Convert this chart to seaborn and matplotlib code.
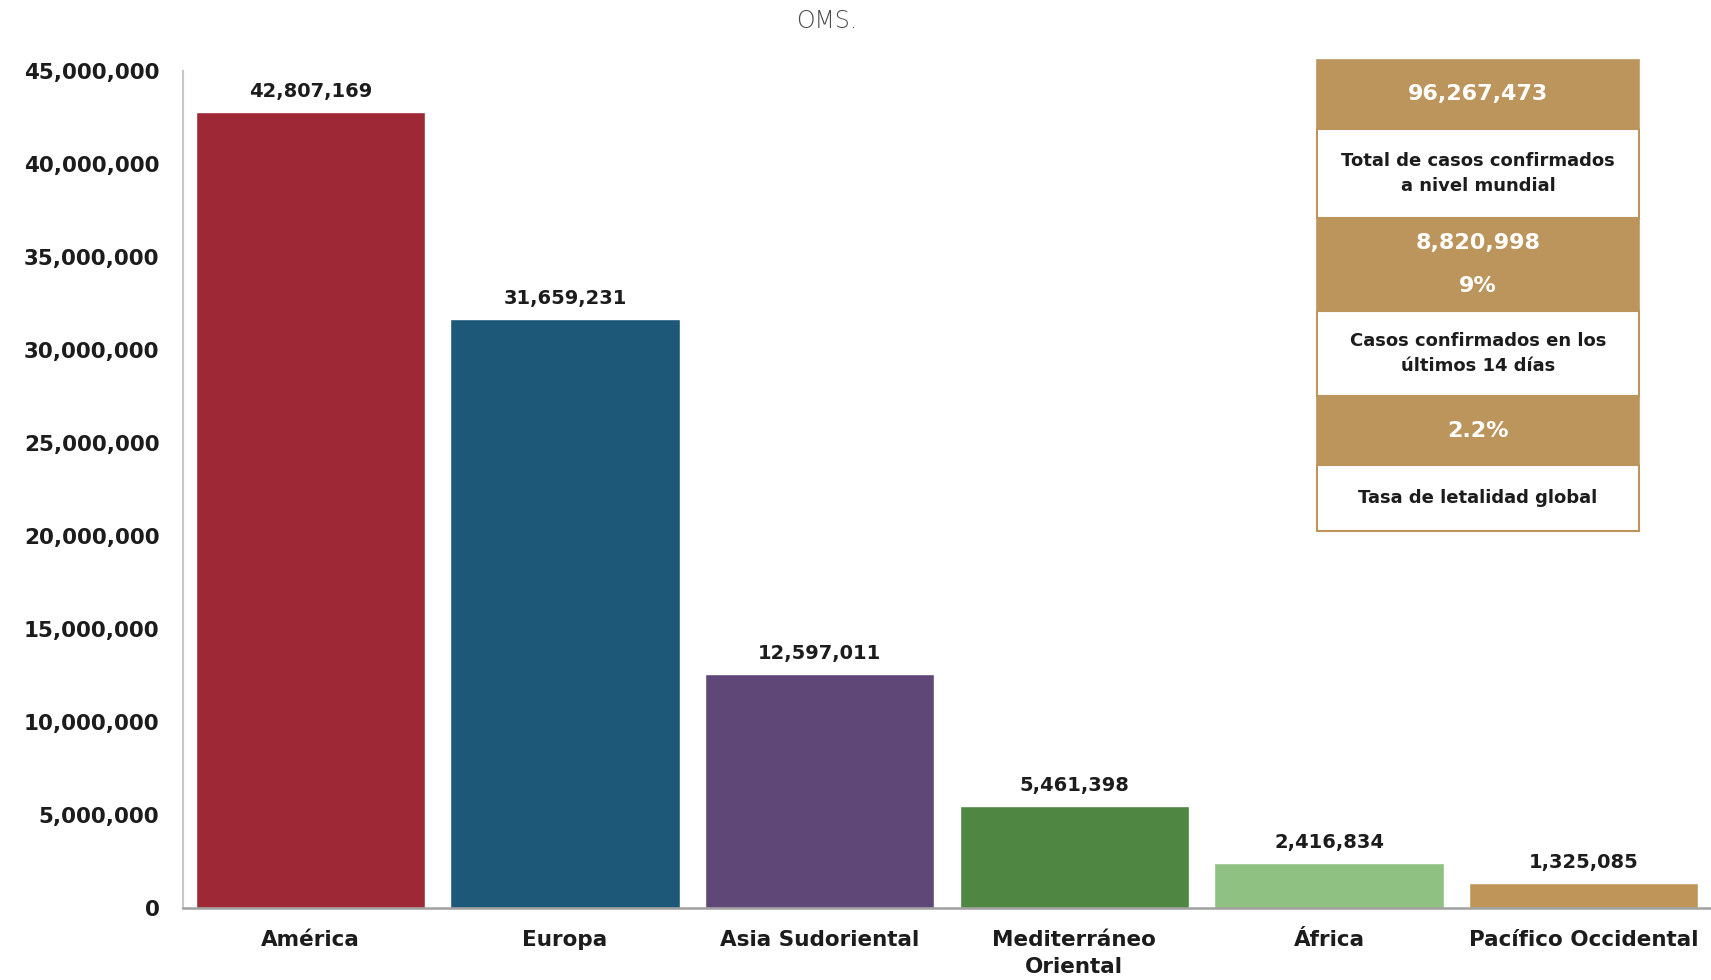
import matplotlib
matplotlib.use("Agg")
import matplotlib.pyplot as plt
import seaborn as sns
import pandas as pd
from matplotlib.patches import Rectangle
from matplotlib.ticker import FuncFormatter

# ----------------------------------------------------------------------
# Data
# ----------------------------------------------------------------------
regions = ["América", "Europa", "Asia Sudoriental", "Mediterráneo\nOriental",
           "África", "Pacífico Occidental"]
cases = [42807169, 31659231, 12597011, 5461398, 2416834, 1325085]
colors = ["#9E2836", "#1E5878", "#5F4877", "#4E8642", "#8FC182", "#BF9559"]

box_values = ["96,267,473", "8,820,998\n9%", "2.2%"]
box_labels = ["Total de casos confirmados\na nivel mundial",
              "Casos confirmados en los\núltimos 14 días",
              "Tasa de letalidad global"]

title = "OMS."
TAN = "#BC955C"
DARK = "#1C1C1C"

# ----------------------------------------------------------------------
# Plot
# ----------------------------------------------------------------------
sns.set_style("white")
plt.rcParams["font.family"] = ["DejaVu Sans"]

df = pd.DataFrame({"region": regions, "cases": cases})

fig = plt.figure(figsize=(17.11, 9.8), dpi=100)
ax = fig.add_axes([0.107, 0.0735, 0.893, 0.854])

sns.barplot(data=df, x="region", y="cases", hue="region", palette=colors,
            width=0.9, saturation=1, legend=False, ax=ax)

ax.set_ylim(0, 45_000_000)
ax.set_xlim(-0.5, 5.5)
ax.set_yticks(range(0, 45_000_001, 5_000_000))
ax.yaxis.set_major_formatter(FuncFormatter(lambda v, p: f"{int(v):,}"))
ax.set_xlabel("")
ax.set_ylabel("")

ax.tick_params(axis="y", length=0, pad=17, labelsize=15.5, labelcolor=DARK)
ax.tick_params(axis="x", length=0, pad=16, labelsize=15.5, labelcolor=DARK)
for lbl in ax.get_yticklabels() + ax.get_xticklabels():
    lbl.set_fontweight("bold")
    lbl.set_linespacing(1.45)

for side in ["top", "right"]:
    ax.spines[side].set_visible(False)
ax.spines["left"].set_color("#C8C8C8")
ax.spines["left"].set_linewidth(1.5)
ax.spines["bottom"].set_color("#A0A0A0")
ax.spines["bottom"].set_linewidth(1.8)

for cont in ax.containers:
    ax.bar_label(cont, labels=[f"{int(v):,}" for v in cont.datavalues],
                 padding=8, fontsize=14, fontweight="bold", color=DARK)

fig.text(0.483, 0.979, title, ha="center", va="center", fontsize=17,
         color="#4A4A4A", fontweight="light")

# ----------------------------------------------------------------------
# Summary box (figure coordinates)
# ----------------------------------------------------------------------
bx0, bx1 = 0.7698, 0.9579
row_edges = [0.9388, 0.8686, 0.7773, 0.6826, 0.5958, 0.5256, 0.4577]

for i in range(3):
    top_v, mid, bot = row_edges[2 * i], row_edges[2 * i + 1], row_edges[2 * i + 2]
    fig.patches.append(Rectangle((bx0, mid), bx1 - bx0, top_v - mid,
                                 transform=fig.transFigure, facecolor=TAN,
                                 edgecolor=TAN, lw=1.2))
    fig.patches.append(Rectangle((bx0, bot), bx1 - bx0, mid - bot,
                                 transform=fig.transFigure, facecolor="white",
                                 edgecolor=TAN, lw=1.5))
    fig.text((bx0 + bx1) / 2, (top_v + mid) / 2, box_values[i], ha="center",
             va="center", fontsize=16, fontweight="bold", color="white",
             linespacing=2.4)
    fig.text((bx0 + bx1) / 2, (mid + bot) / 2, box_labels[i], ha="center",
             va="center", fontsize=13, fontweight="bold", color=DARK,
             linespacing=1.55)

fig.savefig("out.png", dpi=100)
